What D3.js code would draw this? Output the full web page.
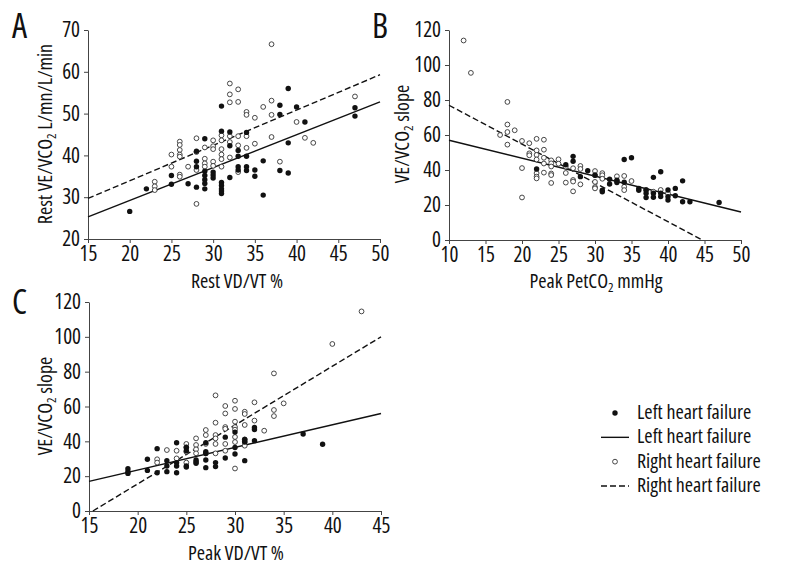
<!DOCTYPE html>
<html><head><meta charset="utf-8">
<script src="https://cdn.jsdelivr.net/npm/d3@7"></script>
<style>
body{margin:0;background:#fff}
svg{font-family:"Open Sans",sans-serif;font-stretch:75%}
</style></head><body>
<svg id="c" width="800" height="575"></svg>
<script>
// Panel A: Rest VD/VT % vs Rest VE/VCO2
const aLeft = [[20,26.6],[22,32],[25,33.1],[25,35.2],[27,33.2],[28,32.4],[28,38.6],[28,41],[28,37.3],[29,44],[29,36.2],[29,35.2],[29,34.2],[29,33.3],[29,32],[30,36],[30,35.3],[30,34.6],[31,51.8],[31,45.8],[31,33.5],[31,32.8],[31,32],[31,31.5],[31,30.9],[32,45.6],[32,42.3],[32,34.7],[33,39.8],[33,41.2],[33,37.3],[33,36.5],[34,45.5],[34,39.8],[34,37.3],[34,36.4],[35,36.5],[35,35],[36,38.7],[36,30.5],[38,52],[38,49.8],[38,36.4],[39,56],[39,43],[39,35.8],[40,51.6],[41,48],[47,51.4],[47,49.4]];
const aRight = [[23,33.7],[23,32.6],[23,31.7],[25,40.2],[25,37.3],[26,43.3],[26,42.5],[26,41.3],[26,40.2],[26,39.7],[26,35.4],[26,34.9],[27,37.3],[28,44.1],[28,40.8],[28,36.5],[28,28.4],[29,41.9],[29,39.2],[29,38.1],[29,37.3],[30,43.6],[30,42.2],[30,41.5],[30,38.5],[30,37.5],[31,44.8],[31,43.6],[31,41.5],[31,40.2],[31,39.1],[31,37.3],[32,57.2],[32,54.6],[32,52.7],[32,44.6],[32,43.2],[32,39.5],[33,55.8],[33,52.8],[33,44.6],[33,42.4],[33,36],[34,50.4],[34,49.7],[34,44.6],[34,41.8],[35,49],[35,42.8],[36,51.6],[37,66.6],[37,53.1],[37,49.7],[37,44.4],[38,38.5],[40,48],[41,44.2],[42,43],[47,54.1]];
const aLeftFit = [[15,25.3],[50,52.8]];
const aRightFit = [[15,29.7],[50,59.3]];

// Panel B: Peak PetCO2 vs VE/VCO2 slope
const bLeft = [[22,40.6],[26,43],[27,47.8],[27,45],[28,36.2],[29,39.6],[30,37],[31,28.5],[31,27.6],[32,34.7],[32,32],[33,34.2],[33,32.8],[34,46],[34,33],[35,47],[36,29.5],[36,28.4],[37,28.6],[37,26.7],[37,24.3],[38,35.8],[38,26.7],[38,24.4],[39,39],[39,26.7],[39,24.8],[40,28.6],[40,24.8],[40,22.9],[41,29.5],[41,25.3],[42,33.8],[42,21.9],[43,21.9],[47,21.4]];
const bRight = [[12,114],[13,95.5],[17,60],[18,78.9],[18,66],[18,61.7],[18,54.5],[19,62.7],[20,56.6],[20,41.1],[20,24.3],[21,55.3],[21,49.5],[21,48.4],[22,57.8],[22,51.2],[22,48.6],[22,46],[22,38.2],[22,36.2],[22,35.2],[23,57.3],[23,51.6],[23,47],[23,43.7],[23,38.5],[24,45.5],[24,43.8],[24,42],[24,38],[24,37.1],[24,32.6],[25,46.1],[25,43.6],[26,41.9],[26,38.3],[26,32.8],[27,41],[27,34.3],[27,33.4],[27,27.8],[28,42.3],[28,40.6],[28,31.8],[30,39.4],[30,37],[30,33.2],[30,30.2],[30,29.5],[31,38.2],[31,37],[31,35],[33,36.4],[33,33.7],[34,36.6],[34,30.4],[34,28.5],[35,33.7],[37,28.6],[38,27.6],[39,28.6],[40,26.6]];
const bLeftFit = [[10,57],[50,16]];
const bRightFit = [[10,77],[44.7,0]];

// Panel C: Peak VD/VT % vs VE/VCO2 slope
const cLeft = [[19,24.3],[19,22.6],[19,21.6],[21,29.7],[21,23.3],[22,35.8],[22,22],[23,28.9],[23,25.8],[23,22.6],[24,39.2],[24,27.8],[24,25.8],[24,22],[25,36.5],[25,34.6],[25,25.9],[25,25.3],[26,29.3],[26,28.3],[26,27.4],[27,39.2],[27,34],[27,33],[27,29.3],[27,24.9],[28,27.8],[28,25.5],[29,42.4],[29,30.4],[30,45.3],[30,36.5],[30,32.7],[31,41.1],[31,39.6],[31,28.9],[32,48],[32,46.8],[32,40.4],[37,44.2],[39,38.3]];
const cRight = [[22,29.7],[22,27.8],[23,35],[24,34.6],[24,30.2],[25,38.5],[25,36.6],[25,34],[25,27.8],[26,41.7],[26,37.9],[26,35.4],[26,33.1],[27,46.5],[27,43.6],[27,38.5],[27,33.1],[28,66.4],[28,50.7],[28,43.6],[28,41.7],[28,38.5],[28,33.1],[29,60.3],[29,56],[29,48.2],[29,47.2],[29,38.5],[29,34.6],[30,63.3],[30,58.6],[30,51.3],[30,48.2],[30,46.7],[30,42.5],[30,39.6],[30,24.4],[31,57],[31,55.7],[31,49.4],[31,41.1],[31,39.7],[31,37.5],[32,62.4],[32,51.9],[33,46.1],[34,79],[34,58],[34,54.5],[35,61.8],[40,95.9],[43,114.6]];
const cLeftFit = [[15,17],[45,56]];
const cRightFit = [[15.4,0],[45,100]];

const xTicksA = [15,20,25,30,35,40,45,50];
const yTicksA = [20,30,40,50,60,70];
const xTicksB = [10,15,20,25,30,35,40,45,50];
const yTicksB = [0,20,40,60,80,100,120];
const xTicksC = [15,20,25,30,35,40,45];
const yTicksC = [0,20,40,60,80,100,120];

const legendItems = [
  {type:"filled", label:"Left heart failure"},
  {type:"solid", label:"Left heart failure"},
  {type:"open", label:"Right heart failure"},
  {type:"dashed", label:"Right heart failure"}
];

const svg = d3.select("#c");
const FS = 20;

function ylab(g, x, y, pre, post){
  const t = g.append("text").attr("transform",`translate(${x},${y}) rotate(-90)`)
    .attr("text-anchor","middle").attr("font-size",FS).attr("fill","#111");
  t.append("tspan").text(pre);
  t.append("tspan").attr("font-size",13).attr("dy",4).text("2");
  t.append("tspan").attr("dy",-4).text(post);
}

function panel(cfg){
  const x = d3.scaleLinear().domain(cfg.xd).range(cfg.xr);
  const y = d3.scaleLinear().domain(cfg.yd).range(cfg.yr);
  const g = svg.append("g");
  const xa = g.append("g").attr("transform",`translate(0,${cfg.yr[0]})`)
    .call(d3.axisBottom(x).tickValues(cfg.xt).tickSize(4).tickSizeOuter(0).tickPadding(3));
  const ya = g.append("g").attr("transform",`translate(${cfg.xr[0]},0)`)
    .call(d3.axisLeft(y).tickValues(cfg.yt).tickSize(4).tickSizeOuter(0).tickPadding(4));
  [xa,ya].forEach(a=>{
    a.attr("font-family",null);
    a.selectAll("path,line").attr("stroke","#444").attr("stroke-width",1);
    a.selectAll("text").attr("font-size",21).attr("fill","#111");
  });
  const line = d3.line().x(d=>x(d[0])).y(d=>y(d[1]));
  g.append("path").attr("d",line(cfg.lf)).attr("fill","none").attr("stroke","#111").attr("stroke-width",1.4);
  g.append("path").attr("d",line(cfg.rf)).attr("fill","none").attr("stroke","#111").attr("stroke-width",1.4).attr("stroke-dasharray","6,3");
  g.selectAll("circle.o").data(cfg.right).join("circle").attr("class","o")
    .attr("cx",d=>x(d[0])).attr("cy",d=>y(d[1])).attr("r",2.4)
    .attr("fill","#fff").attr("stroke","#333").attr("stroke-width",0.9);
  g.selectAll("circle.f").data(cfg.left).join("circle").attr("class","f")
    .attr("cx",d=>x(d[0])).attr("cy",d=>y(d[1])).attr("r",2.7).attr("fill","#111");
  g.append("text").attr("x",cfg.letter[0]).attr("y",cfg.letter[1]).attr("font-size",34).attr("fill","#111").text(cfg.name);
  return g;
}

const gA = panel({xd:[15,50],yd:[20,70],xr:[88,380],yr:[239,30],xt:xTicksA,yt:yTicksA,left:aLeft,right:aRight,lf:aLeftFit,rf:aRightFit,letter:[12,38],name:"A"});
gA.append("text").attr("x",237).attr("y",288).attr("text-anchor","middle").attr("font-size",FS).attr("fill","#111").text("Rest VD/VT %");
ylab(gA,52,134,"Rest VE/VCO"," L/mn/L/min");

const gB = panel({xd:[10,50],yd:[0,120],xr:[449,741],yr:[240,30],xt:xTicksB,yt:yTicksB,left:bLeft,right:bRight,lf:bLeftFit,rf:bRightFit,letter:[372,38],name:"B"});
const tb = gB.append("text").attr("x",596).attr("y",288).attr("text-anchor","middle").attr("font-size",FS).attr("fill","#111");
tb.append("tspan").text("Peak PetCO");
tb.append("tspan").attr("font-size",13).attr("dy",4).text("2");
tb.append("tspan").attr("dy",-4).text(" mmHg");
ylab(gB,409,134,"VE/VCO"," slope");

const gC = panel({xd:[15,45],yd:[0,120],xr:[89,381],yr:[511,302],xt:xTicksC,yt:yTicksC,left:cLeft,right:cRight,lf:cLeftFit,rf:cRightFit,letter:[12,314],name:"C"});
gC.append("text").attr("x",236).attr("y",560).attr("text-anchor","middle").attr("font-size",FS).attr("fill","#111").text("Peak VD/VT %");
ylab(gC,52,406,"VE/VCO"," slope");

// legend
const lg = svg.append("g");
const ly = d3.scalePoint().domain(d3.range(legendItems.length)).range([413,486]);
legendItems.forEach((it,i)=>{
  const yy = ly(i);
  if(it.type==="filled") lg.append("circle").attr("cx",615).attr("cy",yy).attr("r",2.7).attr("fill","#111");
  if(it.type==="open") lg.append("circle").attr("cx",615).attr("cy",yy).attr("r",2.4).attr("fill","#fff").attr("stroke","#333").attr("stroke-width",0.9);
  if(it.type==="solid") lg.append("line").attr("x1",601).attr("x2",629).attr("y1",yy).attr("y2",yy).attr("stroke","#111").attr("stroke-width",1.4);
  if(it.type==="dashed") lg.append("line").attr("x1",601).attr("x2",629).attr("y1",yy).attr("y2",yy).attr("stroke","#111").attr("stroke-width",1.4).attr("stroke-dasharray","6,3");
  lg.append("text").attr("x",637).attr("y",yy+6).attr("font-size",FS).attr("fill","#111").text(it.label);
});
</script></body></html>
